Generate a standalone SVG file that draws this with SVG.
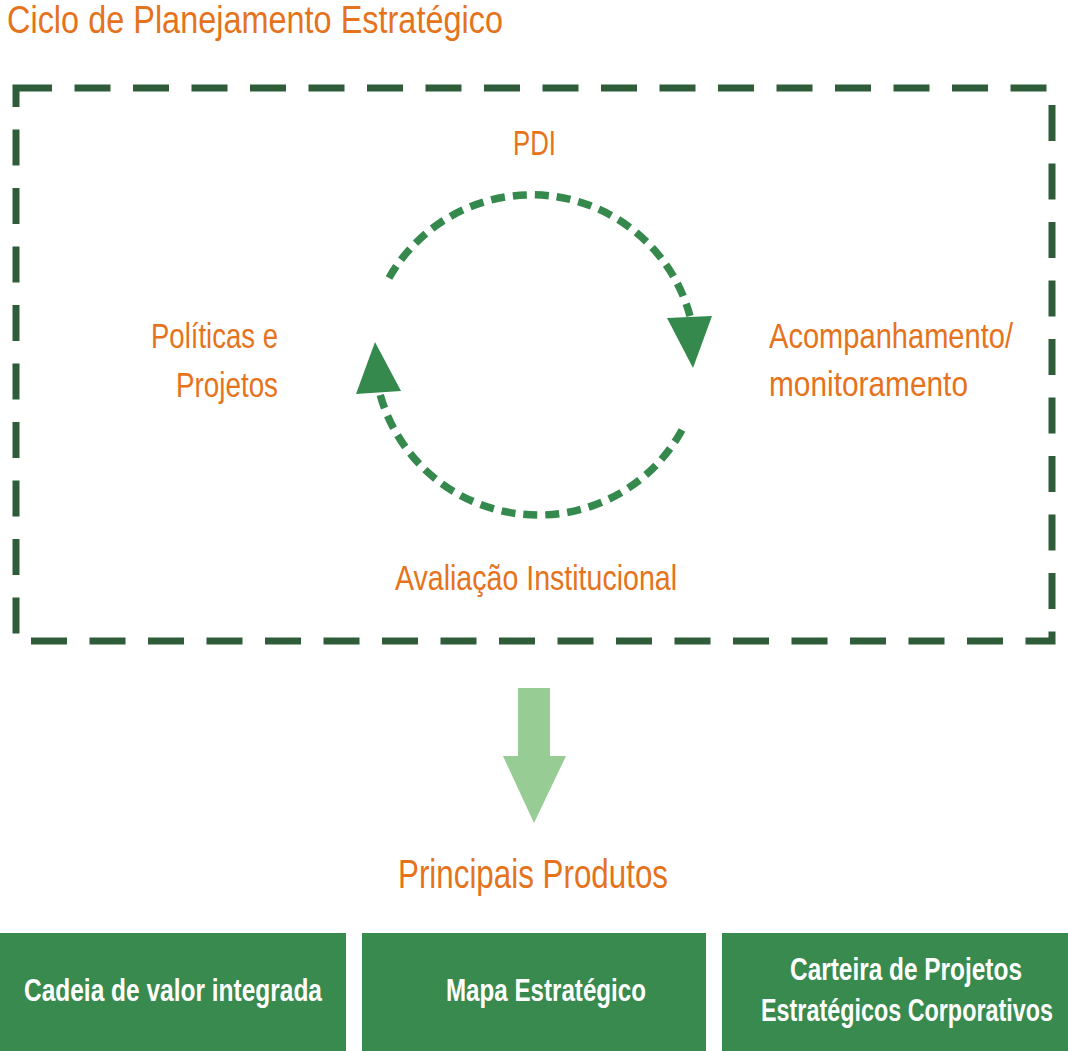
<svg xmlns="http://www.w3.org/2000/svg" width="1068" height="1051" viewBox="0 0 1068 1051">
<style>
.lbl{font-family:"Liberation Sans",Arial,sans-serif;fill:#e5731c;font-size:35px}
.ttl{font-size:38px}
.prod{font-size:41px}
.box{fill:#388a4f}
.btx{font-family:"Liberation Sans",Arial,sans-serif;font-weight:bold;fill:#ffffff;font-size:31px}
.arc{fill:none;stroke:#35894d;stroke-width:7.5;stroke-dasharray:14 8}
.head{fill:#35894d}
</style>
<rect width="1068" height="1051" fill="#ffffff"/>
<g id="title">
<text class="lbl ttl" x="7" y="33" textLength="496" lengthAdjust="spacingAndGlyphs">Ciclo de Planejamento Estratégico</text>
</g>
<g id="frame">
<path d="M16,88 H1052 V641 H16 Z" fill="none" stroke="#2f5d3a" stroke-width="7" stroke-dasharray="36 22.5" stroke-linejoin="miter"/>
</g>
<g id="connectors">
<path class="arc" d="M389,278 A164,164 0 0 1 690,316"/>
<polygon class="head" points="667,318 712,316 693,368"/>
<path class="arc" d="M682,430 A164,164 0 0 1 380,394"/>
<polygon class="head" points="356,394 401,391 375,342"/>
<polygon fill="#98cc95" points="518,688 550,688 550,756 566,756 534,823 503,756 518,756"/>
</g>
<g id="node-pdi">
<text class="lbl" x="513" y="155" textLength="43" lengthAdjust="spacingAndGlyphs">PDI</text>
</g>
<g id="node-politicas">
<text class="lbl" x="151" y="348" textLength="127" lengthAdjust="spacingAndGlyphs">Políticas e</text>
<text class="lbl" x="176" y="397" textLength="102" lengthAdjust="spacingAndGlyphs">Projetos</text>
</g>
<g id="node-acompanhamento">
<text class="lbl" x="769" y="348" textLength="244" lengthAdjust="spacingAndGlyphs">Acompanhamento/</text>
<text class="lbl" x="769" y="396" textLength="199" lengthAdjust="spacingAndGlyphs">monitoramento</text>
</g>
<g id="node-avaliacao">
<text class="lbl" x="395" y="590" textLength="282" lengthAdjust="spacingAndGlyphs">Avaliação Institucional</text>
</g>
<g id="node-produtos">
<text class="lbl prod" x="398" y="888" textLength="270" lengthAdjust="spacingAndGlyphs">Principais Produtos</text>
</g>
<g id="box-cadeia">
<rect class="box" x="0" y="933" width="346" height="118"/>
<text class="btx" x="24" y="1001" textLength="298" lengthAdjust="spacingAndGlyphs">Cadeia de valor integrada</text>
</g>
<g id="box-mapa">
<rect class="box" x="362" y="933" width="344" height="118"/>
<text class="btx" x="446" y="1001" textLength="200" lengthAdjust="spacingAndGlyphs">Mapa Estratégico</text>
</g>
<g id="box-carteira">
<rect class="box" x="722" y="933" width="346" height="118"/>
<text class="btx" transform="translate(790,980) scale(0.78,1)" x="0" y="0" textLength="297.4" lengthAdjust="spacingAndGlyphs">Carteira de Projetos</text>
<text class="btx" transform="translate(761,1021) scale(0.75,1)" x="0" y="0" textLength="389.3" lengthAdjust="spacingAndGlyphs">Estratégicos Corporativos</text>
</g>
</svg>
